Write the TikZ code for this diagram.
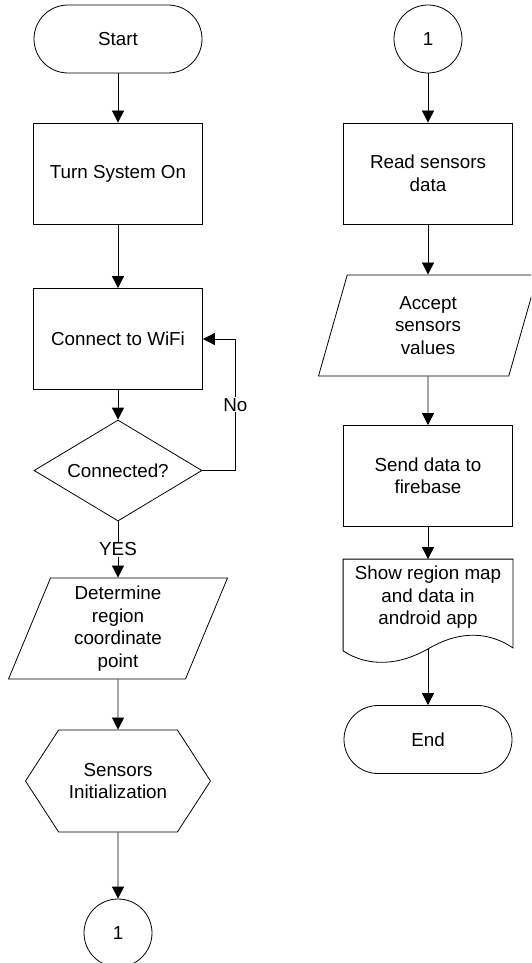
\documentclass[tikz,border=0pt]{standalone}
\usepackage{fontspec}
\setmainfont{Liberation Sans}
\usetikzlibrary{shapes.geometric,shapes.symbols,arrows.meta}

\begin{document}
\begin{tikzpicture}[x=1pt,y=1pt]
      \tikzset{
        base/.style={draw,line width=0.8pt,inner sep=0pt,align=center,
          font=\fontsize{18.8pt}{22.5pt}\selectfont},
        term/.style={base,rectangle,rounded corners=34pt,minimum width=168pt,minimum height=68pt},
        proc/.style={base,rectangle,minimum width=169pt,minimum height=101pt},
        dec/.style={base,diamond,aspect=1.66,minimum width=168pt,minimum height=101pt},
        io/.style={base,trapezium,trapezium left angle=63.7,trapezium right angle=116.3,
          trapezium stretches body,minimum width=219pt,minimum height=101pt},
        prep/.style={base,signal,signal to=west and east,signal pointer angle=114,
          minimum width=185pt,minimum height=102pt},
        conn/.style={base,circle,minimum size=68pt},
        doc/.style={base,draw=none,rectangle,minimum width=169pt,minimum height=76pt},
        lbl/.style={fill=white,inner sep=1pt,font=\fontsize{18.8pt}{22.5pt}\selectfont},
        flow/.style={-{Triangle[length=12pt,width=12pt]},line width=0.8pt}
      }
      \useasboundingbox (0,0) rectangle (531,-963);
      \clip (0,0) rectangle (531,-963);

      % left column
      \node[term] (start) at (118,-39) {Start};
      \node[proc,node distance=134.5pt,below of=start] (turn) {Turn System On};
      \node[proc,node distance=165.5pt,below of=turn] (wifi) {Connect to WiFi};
      \node[dec,node distance=131.5pt,below of=wifi] (check) {Connected?};
      \node[io,node distance=158pt,below of=check] (region) {Determine\\region\\coordinate\\point};
      \node[prep,node distance=152.5pt,below of=region] (init) {Sensors\\Initialization};
      \node[conn,node distance=152pt,below of=init] (jmpA) {1};

      % right column
      \node[conn] (jmpB) at (428,-39) {1};
      \node[proc,node distance=134.5pt,below of=jmpB] (read) {Read sensors\\data};
      \node[io,node distance=152pt,below of=read] (accept) {Accept\\sensors\\values};
      \node[proc,node distance=150.5pt,below of=accept] (send) {Send data to\\firebase};
      \node[doc,node distance=121.5pt,below of=send] (show) {Show region map\\and data in\\android app};
      \node[term,node distance=142pt,below of=show] (end) {End};

      % document outline with wavy bottom
      \coordinate (showout) at ([yshift=-13pt]show.south);
      \draw[line width=0.8pt] ([yshift=-15pt]show.south west) -- (show.north west)
            -- (show.north east) -- ([yshift=-12pt]show.south east)
            .. controls ([shift={(-28pt,7pt)}]show.south east)
            and ([shift={(-58pt,3pt)}]show.south east) .. (showout)
            .. controls ([shift={(-28pt,-29pt)}]show.south)
            and ([shift={(26pt,-32pt)}]show.south west) .. ([yshift=-15pt]show.south west);

      \draw[flow] (start) edge (turn)
            (turn) edge (wifi)
            (wifi) edge (check)
            (check) edge node[lbl] {YES} (region)
            (region) edge (init)
            (init) edge (jmpA)
            (jmpB) edge (read)
            (read) edge (accept)
            (accept) edge (send)
            (send) edge (show);
      \draw[flow] (showout) -- (end);
      \draw[flow] (check.east) -- ++(33,0) |- node[lbl,pos=0.25] {No} (wifi.east);
    \end{tikzpicture}
\end{document}
